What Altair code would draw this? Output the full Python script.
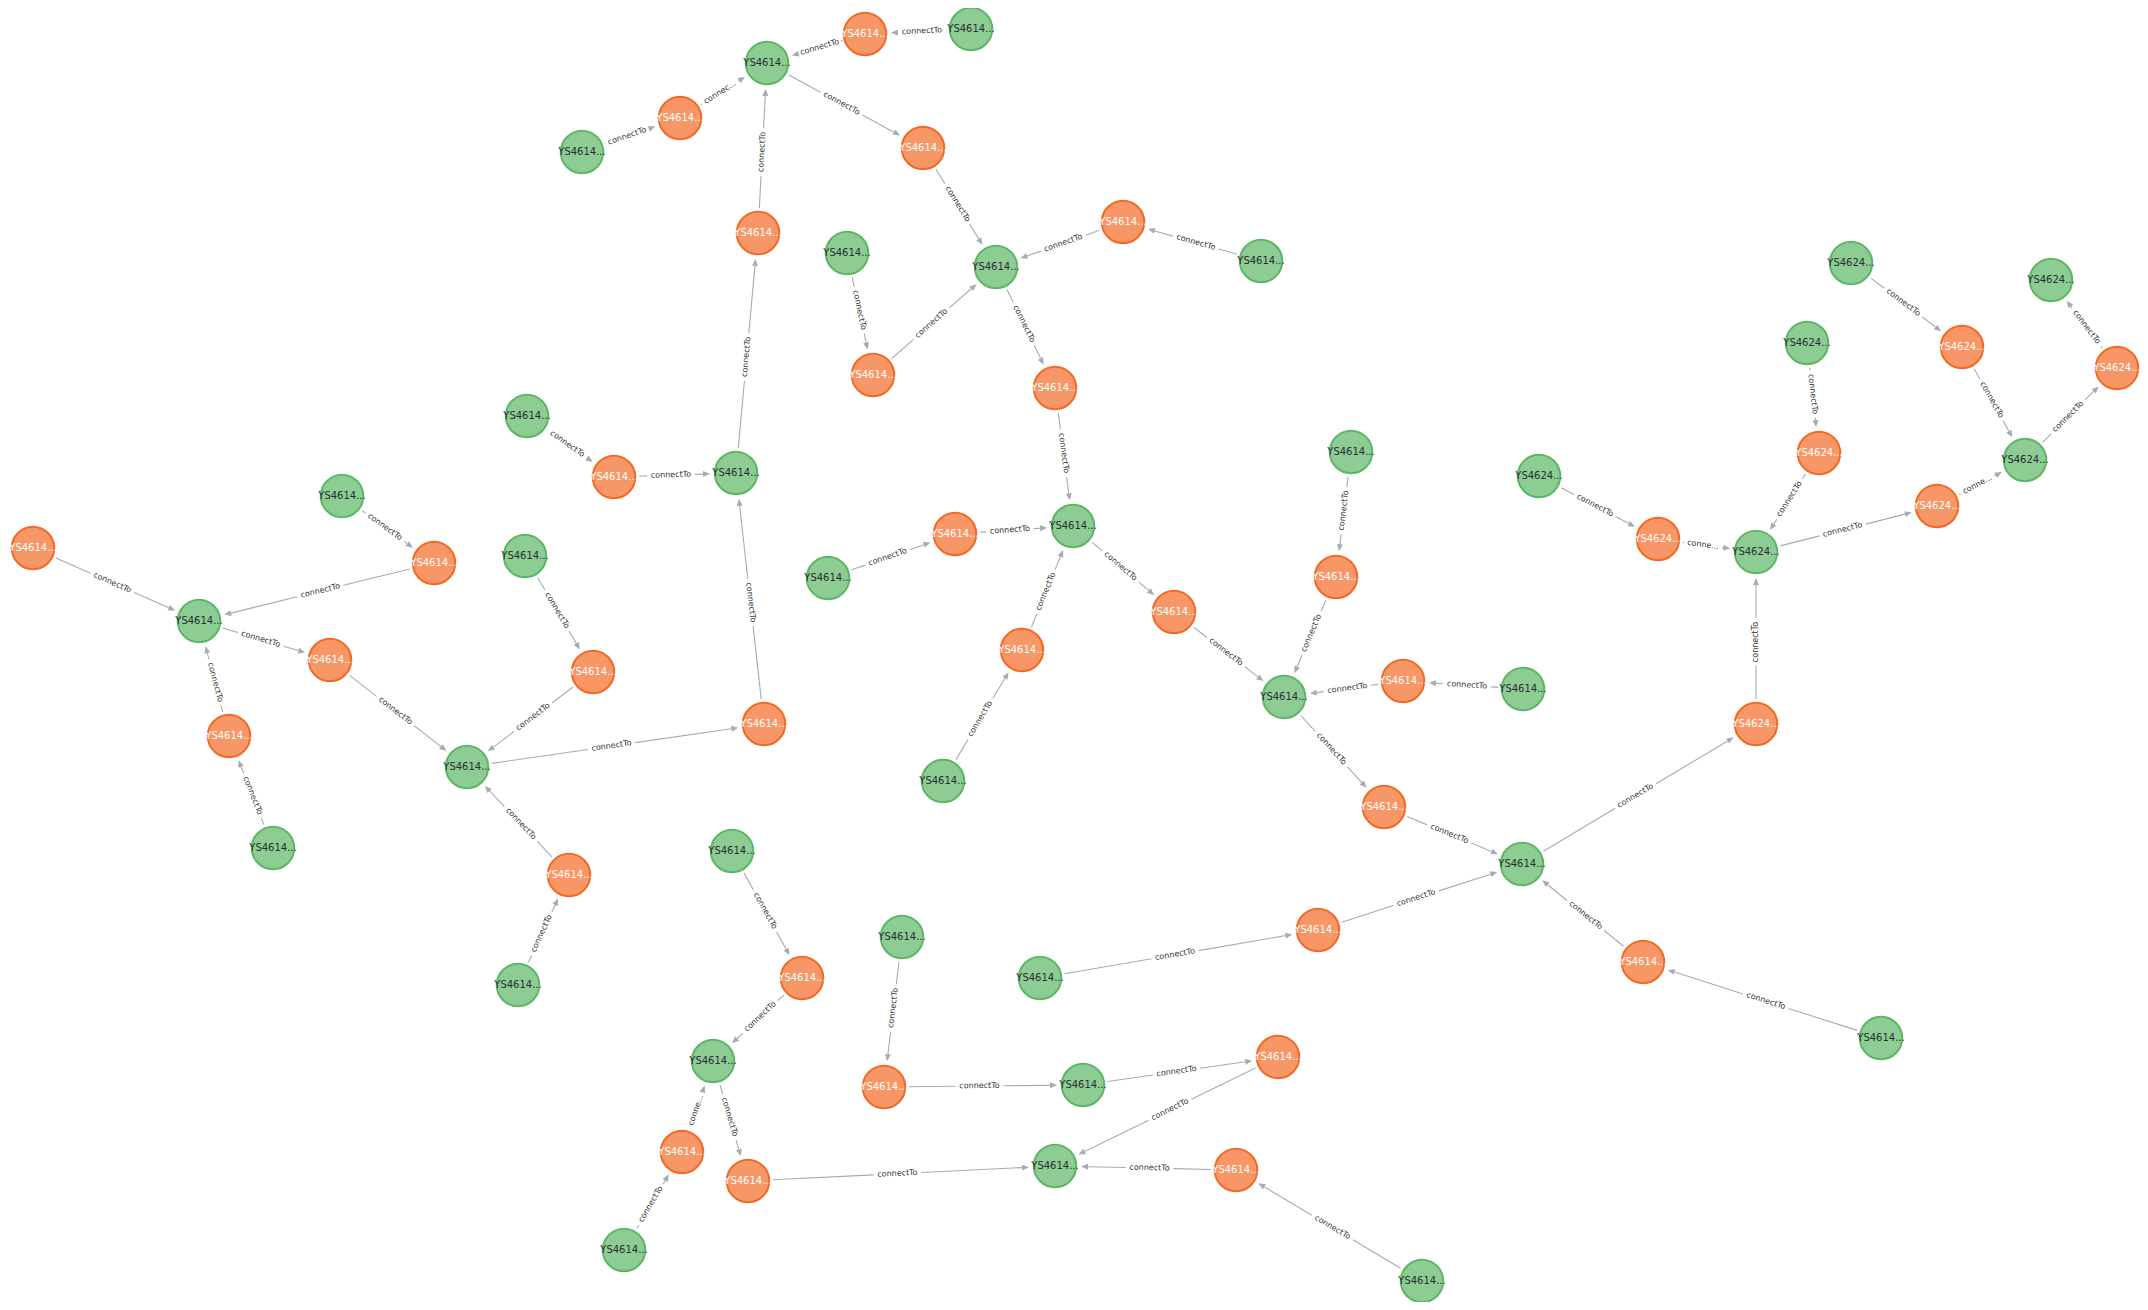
import math
import altair as alt
import pandas as pd

# ---- nodes (positions, page pixels) ----
node_id = ["a", "b", "c", "d", "e", "f", "g", "h", "i", "j", "k", "l", "m", "n",
           "o", "p", "q", "r", "s", "t", "u", "v", "w", "x", "y", "z", "aa", "ab",
           "ac", "ad", "ae", "af", "ag", "ah", "ai", "aj", "ak", "al", "am", "an",
           "ao", "ap", "aq", "ar", "as", "at", "au", "av", "aw", "ax", "ay", "az",
           "ba", "bb", "bc", "bd", "be", "bf", "bg", "bh", "bi", "bj", "bk", "bl",
           "bm", "bn", "bo", "bp", "bq", "br", "bs"]
node_x = [767, 865, 971, 680, 582, 923, 758, 847, 996, 1123, 1261, 873, 1055, 527,
          614, 736, 342, 33, 434, 525, 199, 330, 593, 229, 764, 467, 273, 569,
          518, 1351, 1073, 955, 828, 1336, 1174, 1022, 1403, 1523, 1284, 943,
          1384, 1522, 1318, 1643, 1040, 1881, 1851, 2051, 1807, 1962, 2117, 1819,
          2025, 1539, 1937, 1658, 1756, 1756, 732, 902, 802, 713, 1278, 884,
          1083, 682, 748, 1055, 1236, 624, 1422]
node_y = [63, 34, 29, 118, 152, 148, 233, 253, 267, 222, 261, 375, 388, 416,
          477, 473, 496, 548, 563, 556, 621, 660, 672, 736, 724, 767, 848, 875,
          985, 452, 526, 534, 578, 577, 612, 650, 681, 689, 697, 781,
          807, 864, 930, 962, 978, 1038, 263, 280, 343, 347, 368, 453,
          460, 476, 506, 539, 552, 724, 851, 937, 978, 1061, 1057, 1087,
          1085, 1152, 1181, 1166, 1170, 1250, 1281]
# G = green label, O = orange label
node_kind = ["G", "O", "G", "O", "G", "O", "O", "G", "G", "O", "G", "O", "O", "G",
             "O", "G", "G", "O", "O", "G", "G", "O", "O", "O", "O", "G", "G", "O",
             "G", "G", "G", "O", "G", "O", "O", "O", "O", "G", "G", "G",
             "O", "G", "O", "O", "G", "G", "G", "G", "G", "O", "O", "O",
             "G", "G", "O", "O", "G", "O", "G", "G", "O", "G", "O", "O",
             "G", "O", "O", "G", "O", "G", "G"]
node_caption = ["YS4614..."] * 46 + ["YS4624..."] * 12 + ["YS4614..."] * 13

# ---- relationships ----
edge_src = ["b", "c", "d", "e", "a", "g", "f", "j", "k", "h", "l", "i", "m", "p",
            "n", "o", "y", "z", "r", "q", "s", "u", "v", "t", "w", "x", "aa", "ab",
            "ac", "ag", "af", "aj", "an", "ae", "ai", "ad", "ah", "ak", "al", "am",
            "ao", "ap", "bf", "aq", "as", "ar", "at", "bb", "bd", "aw", "az", "be",
            "bc", "au", "ax", "ba", "ay", "bg", "bi", "bn", "br", "bj", "bo", "bh",
            "bl", "bm", "bk", "bq", "bs"]
edge_dst = ["a", "b", "a", "d", "f", "a", "i", "i", "j", "l", "i", "m", "ae", "g",
            "o", "p", "p", "y", "u", "s", "u", "v", "z", "w", "z", "u", "x", "z",
            "ab", "af", "ae", "ae", "aj", "ai", "am", "ah", "am", "am", "ak", "ao",
            "ap", "bf", "be", "ap", "aq", "ap", "ar", "bd", "be", "az", "be", "bc",
            "ba", "ax", "ba", "ay", "av", "bi", "bj", "bj", "bn", "bo", "bp", "bl",
            "bm", "bk", "bp", "bp", "bq"]
edge_label = ["connectTo"] * len(edge_src)
for k, short in [(2, "connec..."), (48, "conne..."), (52, "conne..."), (59, "conne...")]:
    edge_label[k] = short

# ---- geometry of the drawn relationships ----
R_START = 25   # line starts at the source node border
R_TIP = 26     # arrow tip touches the target node border
HEAD = 7       # arrow head length
PAD = 3        # gap either side of the label

# DejaVu Sans advance widths (em)
char_w = {"c": 0.55, "o": 0.612, "n": 0.634, "e": 0.615, "t": 0.392,
          "T": 0.611, ".": 0.318}


def text_width(s, size=8):
    return sum(char_w.get(ch, 0.6) for ch in s) * size


pos = {k: (x, y) for k, x, y in zip(node_id, node_x, node_y)}
seg_rows, head_rows, lab_rows = [], [], []
for s, t, lab in zip(edge_src, edge_dst, edge_label):
    x1, y1 = pos[s]
    x2, y2 = pos[t]
    dx, dy = x2 - x1, y2 - y1
    dist = math.hypot(dx, dy)
    ux, uy = dx / dist, dy / dist
    sx, sy = x1 + ux * R_START, y1 + uy * R_START
    tx, ty = x2 - ux * R_TIP, y2 - uy * R_TIP
    bx, by = tx - ux * HEAD, ty - uy * HEAD
    mx, my = (sx + bx) / 2, (sy + by) / 2
    half = text_width(lab) / 2 + PAD
    seg_rows.append(dict(x=sx, y=sy, x2=mx - ux * half, y2=my - uy * half))
    seg_rows.append(dict(x=mx + ux * half, y=my + uy * half, x2=bx, y2=by))
    head_rows.append(dict(x=tx - ux * HEAD / 2, y=ty - uy * HEAD / 2,
                          angle=(math.degrees(math.atan2(dx, -dy)) + 360) % 360))
    a = math.degrees(math.atan2(dy, dx))
    if a > 90:
        a -= 180
    elif a < -90:
        a += 180
    lab_rows.append(dict(x=mx, y=my, angle=(a + 360) % 360, label=lab))

nodes = pd.DataFrame({"x": node_x, "y": node_y, "kind": node_kind,
                      "caption": node_caption})
segs = pd.DataFrame(seg_rows)
heads = pd.DataFrame(head_rows)
labels = pd.DataFrame(lab_rows)

xs = alt.Scale(domain=[8, 2140], nice=False, zero=False)
ys = alt.Scale(domain=[8, 1302], nice=False, zero=False, reverse=True)
X = alt.X("x:Q", scale=xs, axis=None)
Y = alt.Y("y:Q", scale=ys, axis=None)
REL = "#A5ABB6"

lines = alt.Chart(segs).mark_rule(color=REL, strokeWidth=1.1).encode(
    X, Y, x2="x2:Q", y2="y2:Q"
)

arrows = alt.Chart(heads).mark_point(
    shape="M0,-1L0.85,1L-0.85,1Z", size=49, filled=True, fill=REL,
    strokeWidth=0, opacity=1
).encode(X, Y, angle=alt.Angle("angle:Q", scale=None))

rel_text = alt.Chart(labels).mark_text(
    font="DejaVu Sans", fontSize=8, color="#333333",
    align="center", baseline="middle"
).encode(X, Y, text="label:N", angle=alt.Angle("angle:Q", scale=None))

circles = alt.Chart(nodes).mark_circle(size=1810, strokeWidth=2, opacity=1).encode(
    X, Y,
    fill=alt.Fill("kind:N", scale=alt.Scale(domain=["G", "O"],
                  range=["#8DCC93", "#F79767"]), legend=None),
    stroke=alt.Stroke("kind:N", scale=alt.Scale(domain=["G", "O"],
                      range=["#5DB665", "#F36924"]), legend=None),
)

captions = alt.Chart(nodes).mark_text(
    font="DejaVu Sans", fontSize=10, align="center", baseline="middle"
).encode(
    X, Y, text="caption:N",
    color=alt.Color("kind:N", scale=alt.Scale(domain=["G", "O"],
                    range=["#2A2C34", "#FFFFFF"]), legend=None),
)

chart = alt.layer(lines, arrows, rel_text, circles, captions).properties(
    width=2132, height=1294, padding=0,
    autosize=alt.AutoSizeParams(type="none"),
    background="white",
).configure_view(stroke=None)

chart.save("out.html", embed_options={"renderer": "svg", "actions": False})
